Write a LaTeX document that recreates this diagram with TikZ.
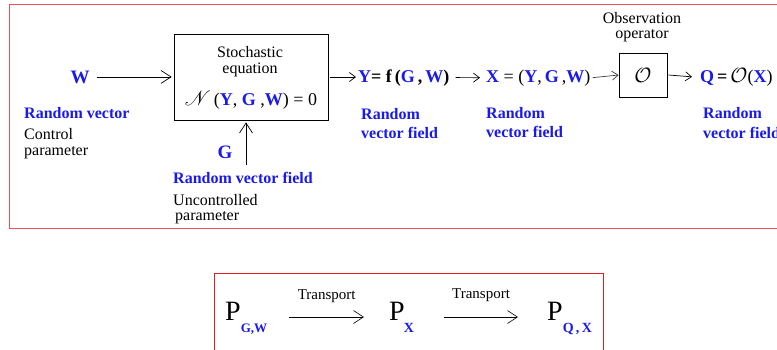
\documentclass[tikz,border=0pt]{standalone}
\usepackage{fontspec}
\setmainfont{Liberation Serif}
\usepackage{mathrsfs}
\usetikzlibrary{arrows.meta}
\definecolor{blu}{RGB}{25,25,235}
\definecolor{redline}{RGB}{238,80,80}
\definecolor{redline2}{RGB}{228,30,30}
\newcommand{\bb}[1]{\textbf{\textcolor{blu}{#1}}}
\begin{document}
\begin{tikzpicture}[x=1pt,y=-1pt,
  lbl/.style={inner sep=0pt, font=\fontsize{16}{18}\selectfont},
  blbl/.style={inner sep=0pt, font=\fontsize{16}{18}\selectfont\bfseries, text=blu},
  sym/.style={inner sep=0pt, font=\fontsize{18}{20}\selectfont},
  bigP/.style={inner sep=0pt, font=\fontsize{28}{30}\selectfont},
  arr/.style={-{Straight Barb[length=10pt,width=13pt]}, line width=0.7pt},
  sarr/.style={-{Straight Barb[length=6pt,width=9pt]}, line width=0.7pt},
  blk/.style={draw, line width=0.8pt, inner sep=0pt}]
\useasboundingbox (0,0) rectangle (777,349);
\draw[redline, line width=1pt] (9,4.5) rectangle (790,228);
\draw[redline2, line width=1pt] (214,273) rectangle (603,360);

% input W
\node[sym, anchor=base, font=\fontsize{19}{21}\selectfont\bfseries, text=blu] (W) at (80,83) {W};
\node[blbl, anchor=base west] (Wl1) at (24,118) {Random vector};
\node[lbl, anchor=base west] (Wl2) at (24,139) {Control};
\node[lbl, anchor=base west] (Wl3) at (24,155) {parameter};

% stochastic equation box
\node[blk, minimum width=154pt, minimum height=86pt] (box) at (251,77) {};
\node[lbl, anchor=base] (st1) at (250,57) {Stochastic};
\node[lbl, anchor=base] (st2) at (250,73) {equation};
\node[sym, anchor=base] (eq) at (251,105) {{\fontsize{22}{22}\selectfont$\mathscr{N}$}\,(\bb{Y}, \bb{G} ,\bb{W}) = 0};

% input G
\node[sym, anchor=base, font=\fontsize{19}{21}\selectfont\bfseries, text=blu] (G) at (225,158) {G};
\coordinate (gtail) at (246,165);
\node[blbl, anchor=base west] (Gl1) at (173,183) {Random vector field};
\node[lbl, anchor=base west] (Gl2) at (173,205) {Uncontrolled};
\node[lbl, anchor=base west] (Gl3) at (175,220) {parameter};

% Y
\node[sym, anchor=base west] (Y) at (358,82) {\bb{Y}\textbf{= f\,(\textcolor{blu}{G}\,,\,\textcolor{blu}{W})}};
\node[blbl, anchor=base west] (Yl1) at (361,119) {Random};
\node[blbl, anchor=base west] (Yl2) at (361,138) {vector field};

% X
\node[sym, anchor=base west] (X) at (486,82) {\bb{X} = (\bb{Y},\,\bb{G}\,,\bb{W})};
\node[blbl, anchor=base west] (Xl1) at (486,118) {Random};
\node[blbl, anchor=base west] (Xl2) at (486,137) {vector field};

% observation operator
\node[blk, minimum width=48pt, minimum height=44pt] (obs) at (643,75) {\fontsize{20}{20}\selectfont$\mathcal{O}$};
\node[lbl, anchor=base] (ob1) at (642,23) {Observation};
\node[lbl, anchor=base] (ob2) at (642,38) {operator};

% Q
\node[sym, anchor=base west] (Q) at (700,82) {\bb{Q}\,\textbf{=}\,{\fontsize{20}{20}\selectfont$\mathcal{O}$}(\bb{X})};
\node[blbl, anchor=base west] (Ql1) at (703,118) {Random};
\node[blbl, anchor=base west] (Ql2) at (703,138) {vector field};

% connectors
\draw[arr] ([xshift=7pt]W.east) -- ([xshift=-2pt]box.west |- W.east);
\draw[arr] (gtail) -- ([yshift=-2pt]gtail |- box.south);
\draw[sarr] ([xshift=2pt]box.east) -- ([xshift=-2pt]box.east -| Y.west);
\draw[sarr] ([xshift=6pt]Y.east) -- ([xshift=-6pt]X.west);
\draw[sarr, draw=black!75] ([xshift=2pt]X.east) -- (obs.west);
\draw[sarr] ([xshift=1pt]obs.east) -- ([xshift=-8pt]Q.west);

% bottom: transport of probability laws
\node[bigP, anchor=base west] (P1) at (225,320) {P\kern0pt\raisebox{-12pt}{\fontsize{13}{13}\selectfont\bfseries\color{blu}G,W}};
\node[bigP, anchor=base west] (P2) at (389,320) {P\kern-1pt\raisebox{-12pt}{\fontsize{14}{14}\selectfont\bfseries\color{blu}X}};
\node[bigP, anchor=base west] (P3) at (547,320) {P\kern0pt\raisebox{-12pt}{\fontsize{14}{14}\selectfont\bfseries\color{blu}Q\,,\,X}};
\draw[arr, line width=0.6pt] ([xshift=22pt,yshift=3pt]P1.base east) -- node[lbl, above=14pt, font=\fontsize{15}{16}\selectfont] (t1) {Transport} ([xshift=-25pt,yshift=3pt]P2.base west);
\draw[arr, line width=0.6pt] ([xshift=30pt,yshift=3pt]P2.base east) -- node[lbl, above=15pt, font=\fontsize{15}{16}\selectfont] (t2) {Transport} ([xshift=-29pt,yshift=3pt]P3.base west);
\end{tikzpicture}
\end{document}
